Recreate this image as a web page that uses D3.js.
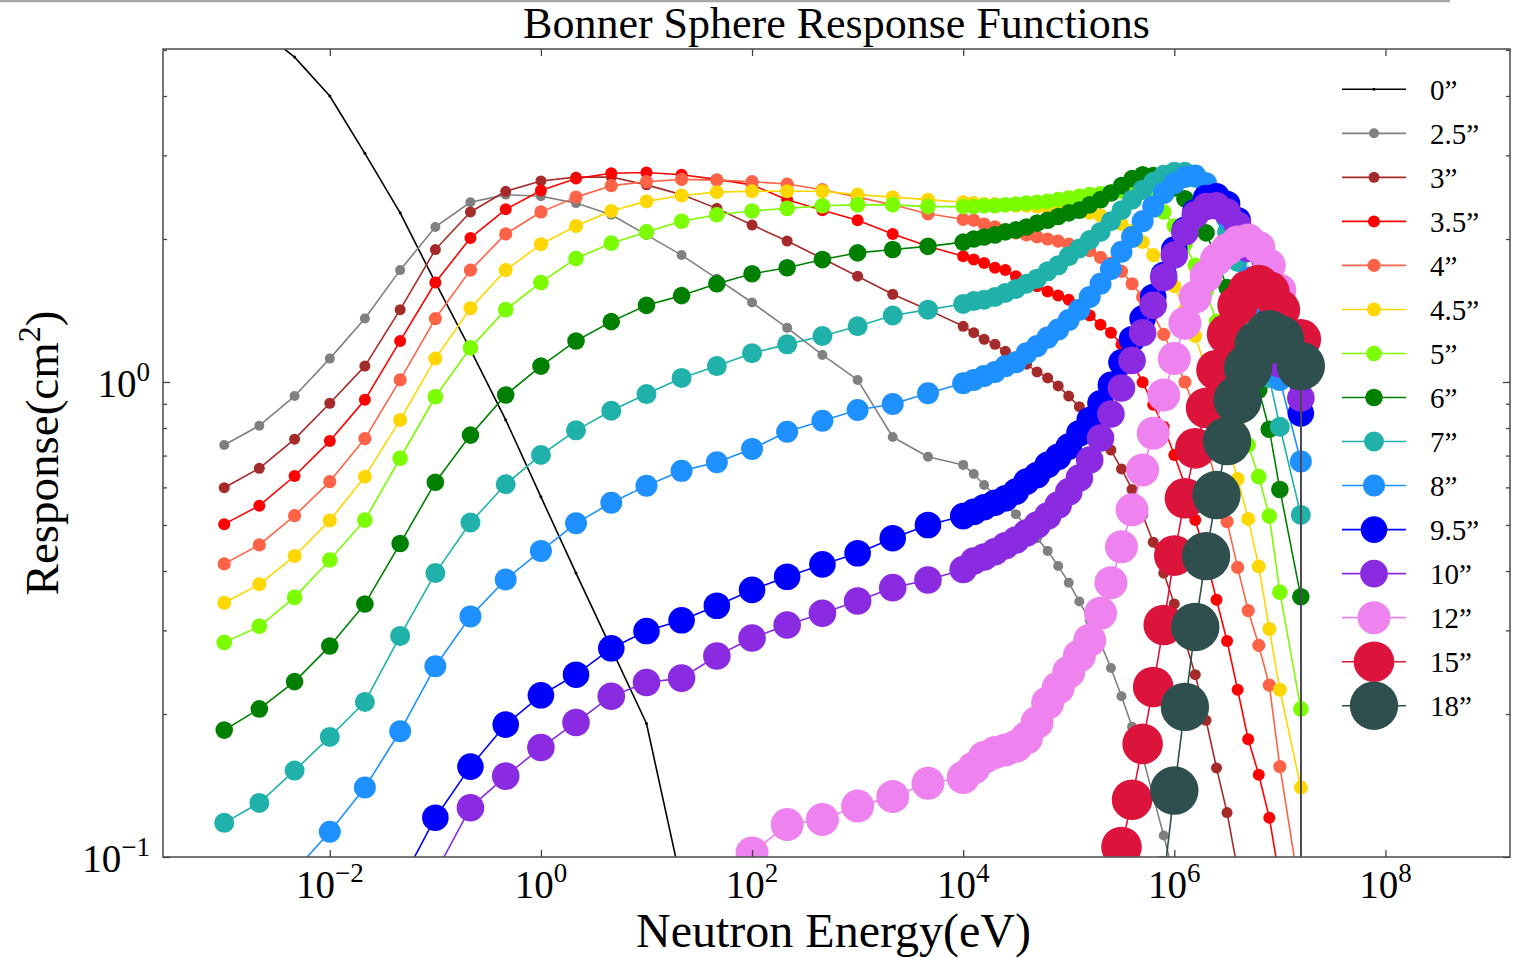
<!DOCTYPE html>
<html>
<head>
<meta charset="utf-8">
<script src="https://cdn.jsdelivr.net/npm/d3@7"></script>
<style>
  body { margin: 0; background: #fff; }
  svg { display: block; }
  text { font-family: "Liberation Serif", "DejaVu Serif", serif; fill: #000; }
</style>
</head>
<body>
<svg id="chart" width="1519" height="958"></svg>
<script>
// Neutron energy grid (eV)
const energies = [
  1e-3, 2.15e-3, 4.64e-3, 1e-2, 2.15e-2, 4.64e-2, 0.1, 0.215, 0.464, 1,
  2.15, 4.64, 10, 21.5, 46.4, 100, 215, 464, 1e3, 2.15e3, 4.64e3, 1e4,
  1.26e4, 1.58e4, 2.0e4, 2.51e4, 3.16e4, 3.98e4, 5.01e4, 6.31e4, 7.94e4, 1e5,
  1.26e5, 1.58e5, 2.0e5, 2.51e5, 3.16e5, 3.98e5, 5.01e5, 6.31e5, 7.94e5, 1e6,
  1.26e6, 1.58e6, 2.0e6, 2.51e6, 3.16e6, 3.98e6, 5.01e6, 6.31e6, 7.94e6, 1e7,
  1.58e7, 2.0e7
];

// leading points that lie outside the tabulated range of a sphere
const gap = n => Array(n).fill(null);

// Response (cm^2) of each sphere diameter, aligned with energies
const resp00 = [6.1, 5.53, 4.83, 4.00, 3.03, 2.27, 1.62, 1.17, 0.832, 0.573,
  0.396, 0.275, 0.191, 0.0877];
const resp25 = [0.737, 0.809, 0.934, 1.12, 1.36, 1.72, 2.12, 2.39, 2.48, 2.46,
  2.38, 2.25, 2.04, 1.85, 1.65, 1.47, 1.30, 1.14, 1.01, 0.766, 0.696, 0.669,
  0.640, 0.607, 0.578, 0.551, 0.527, 0.496, 0.469, 0.441, 0.410, 0.378,
  0.345, 0.315, 0.282, 0.250, 0.218, 0.188, 0.163, 0.134, 0.111, 0.0903];
const resp30 = [0.599, 0.658, 0.758, 0.902, 1.08, 1.42, 1.90, 2.28, 2.52, 2.65,
  2.70, 2.70, 2.60, 2.48, 2.32, 2.14, 1.98, 1.82, 1.67, 1.53, 1.42, 1.31,
  1.27, 1.23, 1.20, 1.16, 1.13, 1.09, 1.05, 1.02, 0.981, 0.934,
  0.887, 0.832, 0.773, 0.719, 0.656, 0.594, 0.525, 0.460, 0.396, 0.341,
  0.286, 0.242, 0.194, 0.154, 0.124, 0.0939];
const resp35 = [0.502, 0.549, 0.634, 0.751, 0.917, 1.22, 1.62, 2.01, 2.31, 2.53,
  2.68, 2.75, 2.76, 2.73, 2.67, 2.60, 2.42, 2.30, 2.19, 2.05, 1.93, 1.84,
  1.81, 1.78, 1.74, 1.72, 1.67, 1.63, 1.59, 1.55, 1.52, 1.49,
  1.43, 1.38, 1.32, 1.27, 1.20, 1.10, 0.999, 0.895, 0.805, 0.702,
  0.607, 0.512, 0.426, 0.348, 0.285, 0.225, 0.177, 0.149, 0.121, 0.0894];
const resp40 = [0.414, 0.454, 0.523, 0.617, 0.760, 1.01, 1.36, 1.72, 2.05, 2.28,
  2.45, 2.59, 2.64, 2.67, 2.66, 2.64, 2.61, 2.54, 2.45, 2.36, 2.26, 2.20,
  2.19, 2.15, 2.12, 2.09, 2.06, 2.04, 2.02, 2.00, 1.98, 1.95,
  1.92, 1.89, 1.83, 1.78, 1.71, 1.61, 1.51, 1.39, 1.26, 1.13,
  1.00, 0.873, 0.737, 0.616, 0.508, 0.407, 0.330, 0.279, 0.230, 0.155,
  0.0816, 0];
const resp45 = [0.343, 0.375, 0.430, 0.511, 0.632, 0.832, 1.12, 1.43, 1.72, 1.95,
  2.13, 2.29, 2.40, 2.47, 2.51, 2.52, 2.52, 2.52, 2.48, 2.45, 2.42, 2.39,
  2.38, 2.37, 2.37, 2.36, 2.35, 2.35, 2.34, 2.33, 2.32, 2.30,
  2.29, 2.27, 2.24, 2.20, 2.15, 2.08, 1.97, 1.85, 1.73, 1.59,
  1.42, 1.25, 1.06, 0.895, 0.748, 0.625, 0.515, 0.409, 0.302, 0.225,
  0.140, 0];
const resp50 = [0.283, 0.306, 0.352, 0.422, 0.512, 0.691, 0.931, 1.18, 1.42, 1.62,
  1.82, 1.96, 2.07, 2.18, 2.25, 2.29, 2.32, 2.35, 2.36, 2.36, 2.34, 2.34,
  2.34, 2.35, 2.35, 2.36, 2.37, 2.38, 2.39, 2.40, 2.42, 2.44,
  2.46, 2.48, 2.49, 2.51, 2.52, 2.52, 2.51, 2.42, 2.28, 2.13,
  1.95, 1.76, 1.55, 1.34, 1.14, 0.939, 0.737, 0.632, 0.522, 0.361,
  0.205, 0];
const resp60 = [0.185, 0.205, 0.234, 0.278, 0.341, 0.457, 0.615, 0.773, 0.939, 1.08,
  1.22, 1.34, 1.45, 1.52, 1.61, 1.69, 1.74, 1.81, 1.87, 1.90, 1.93, 1.97,
  2.00, 2.02, 2.04, 2.07, 2.09, 2.12, 2.16, 2.19, 2.23, 2.27,
  2.30, 2.36, 2.42, 2.50, 2.59, 2.68, 2.73, 2.72, 2.66, 2.56,
  2.43, 2.26, 2.06, 1.82, 1.58, 1.35, 1.16, 0.962, 0.795, 0.594,
  0.353, 0];
const resp70 = [0.118, 0.130, 0.152, 0.179, 0.212, 0.292, 0.396, 0.506, 0.609, 0.702,
  0.791, 0.870, 0.943, 1.02, 1.08, 1.15, 1.20, 1.25, 1.31, 1.38, 1.42, 1.46,
  1.48, 1.49, 1.51, 1.54, 1.57, 1.61, 1.65, 1.71, 1.76, 1.84,
  1.91, 1.99, 2.07, 2.18, 2.30, 2.42, 2.54, 2.64, 2.73, 2.77,
  2.77, 2.69, 2.54, 2.32, 2.07, 1.79, 1.49, 1.24, 1.02, 0.805,
  0.525, 0];
const resp80 = [null, null, 0.0934, 0.113, 0.140, 0.184, 0.252, 0.321, 0.384, 0.441,
  0.504, 0.557, 0.605, 0.650, 0.678, 0.723, 0.786, 0.829, 0.873, 0.899, 0.947, 0.994,
  1.01, 1.03, 1.05, 1.08, 1.10, 1.15, 1.19, 1.24, 1.29, 1.35,
  1.42, 1.51, 1.61, 1.73, 1.88, 2.02, 2.18, 2.34, 2.50, 2.62,
  2.70, 2.72, 2.62, 2.45, 2.21, 1.94, 1.66, 1.42, 1.20, 1.01,
  0.680, 0];
const resp95 = [...gap(5), 0.0877, 0.121, 0.155, 0.190, 0.219,
  0.242, 0.275, 0.299, 0.315, 0.338, 0.365, 0.389, 0.413, 0.436, 0.469, 0.500, 0.522,
  0.533, 0.545, 0.557, 0.569, 0.588, 0.617, 0.637, 0.669, 0.696, 0.731,
  0.780, 0.832, 0.902, 0.986, 1.10, 1.23, 1.36, 1.51, 1.68, 1.90,
  2.09, 2.28, 2.44, 2.46, 2.37, 2.19, 1.94, 1.64, 1.35, 1.11,
  0.859, 0];
const resp100 = [...gap(6), 0.0925, 0.127, 0.148, 0.170,
  0.192, 0.218, 0.233, 0.238, 0.265, 0.289, 0.308, 0.326, 0.346, 0.369, 0.383, 0.403,
  0.420, 0.428, 0.439, 0.452, 0.465, 0.481, 0.500, 0.522, 0.551, 0.587,
  0.628, 0.685, 0.762, 0.856, 0.971, 1.11, 1.27, 1.45, 1.66, 1.85,
  2.07, 2.25, 2.34, 2.35, 2.28, 2.14, 1.91, 1.60, 1.32, 1.09,
  0.925, 0];
const resp120 = [...gap(14), 0.0812, 0.102, 0.117, 0.120, 0.128, 0.134, 0.143, 0.147,
  0.154, 0.162, 0.166, 0.168, 0.171, 0.178, 0.192, 0.211, 0.227, 0.245,
  0.265, 0.286, 0.326, 0.378, 0.450, 0.538, 0.653, 0.780, 0.939, 1.12,
  1.33, 1.51, 1.67, 1.81, 1.90, 1.97, 1.99, 1.92, 1.76, 1.56,
  1.14, 0];
const resp150 = [...gap(35), 0.0812, 0.105, 0.132, 0.173, 0.228, 0.308, 0.431,
  0.569, 0.725, 0.882, 1.06, 1.26, 1.45, 1.56, 1.60, 1.55, 1.42,
  1.23, 0];
const resp180 = [...gap(40), 0.0894, 0.138,
  0.207, 0.305, 0.430, 0.578, 0.751, 0.917, 1.07, 1.20, 1.26, 1.23,
  1.08, 0];

const sphereLabels = ["0\u201D", "2.5\u201D", "3\u201D", "3.5\u201D", "4\u201D", "4.5\u201D", "5\u201D",
  "6\u201D", "7\u201D", "8\u201D", "9.5\u201D", "10\u201D", "12\u201D", "15\u201D", "18\u201D"];
const responses = [resp00, resp25, resp30, resp35, resp40, resp45, resp50, resp60,
  resp70, resp80, resp95, resp100, resp120, resp150, resp180];

// tick values
const xMajorTicks = [1e-2, 1e0, 1e2, 1e4, 1e6, 1e8];
const xTickExponents = ["\u22122", "0", "2", "4", "6", "8"];
const yMajorTicks = [0.1, 1];
const yTickExponents = ["\u22121", "0"];
const yMinorTicks = [0.2, 0.3, 0.4, 0.5, 0.6, 0.7, 0.8, 0.9, 2, 3, 4, 5];

// styling
const colors = ["#000000", "#808080", "#a52a2a", "#ff0000", "#ff6347", "#ffd700", "#7cfc00",
  "#008000", "#20b2aa", "#1e90ff", "#0000ff", "#8a2be2", "#ee82ee", "#dc143c", "#2f4f4f"];
const markerRadius = [1.5, 5, 5.5, 6, 6.6, 7, 7.8, 8.8, 10, 11, 13.3, 13.8, 16.5, 20.3, 24.2];

const svg = d3.select("#chart");
const plot = { left: 163, right: 1510, top: 49, bottom: 857 };

const x = d3.scaleLog()
  .domain([Math.pow(10, -3.58), Math.pow(10, 9.18)])
  .range([plot.left, plot.right]);
const y = d3.scaleLog()
  .domain([0.1, Math.pow(10, 0.701)])
  .range([plot.bottom, plot.top]);

// thin rule across the top of the figure
svg.append("line")
  .attr("x1", 0).attr("x2", 1450).attr("y1", 1).attr("y2", 1)
  .attr("stroke", "#a6a6a6").attr("stroke-width", 2.5);

svg.append("defs").append("clipPath").attr("id", "plot-clip")
  .append("rect")
  .attr("x", plot.left).attr("y", plot.top)
  .attr("width", plot.right - plot.left).attr("height", plot.bottom - plot.top);

// response curves, drawn in order so the larger spheres sit on top
const FLOOR = 1e-300;
const line = d3.line()
  .defined(d => d.v != null)
  .x(d => x(d.e))
  .y(d => y(Math.max(d.v, FLOOR)));

const curves = svg.append("g").attr("clip-path", "url(#plot-clip)");
responses.forEach((vals, i) => {
  const pts = energies.map((e, k) => ({ e, v: vals[k] === undefined ? null : vals[k] }));
  const g = curves.append("g");
  g.append("path")
    .attr("d", line(pts))
    .attr("fill", "none")
    .attr("stroke", colors[i])
    .attr("stroke-width", 1.6)
    .attr("stroke-linejoin", "round");
  g.selectAll("circle")
    .data(pts.filter(d => d.v != null && d.v > 0))
    .join("circle")
    .attr("cx", d => x(d.e))
    .attr("cy", d => y(d.v))
    .attr("r", markerRadius[i])
    .attr("fill", colors[i]);
});

// frame
svg.append("rect")
  .attr("x", plot.left).attr("y", plot.top)
  .attr("width", plot.right - plot.left).attr("height", plot.bottom - plot.top)
  .attr("fill", "none").attr("stroke", "#555").attr("stroke-width", 1.6);

// inward ticks on all four sides
function styleAxis(g) {
  g.select(".domain").remove();
  g.selectAll(".tick line").attr("stroke", "#444").attr("stroke-width", 1.3);
  g.selectAll(".tick text").remove();
}
svg.append("g").attr("transform", `translate(0,${plot.bottom})`)
  .call(d3.axisBottom(x).tickValues(xMajorTicks).tickSize(-7).tickFormat(""))
  .call(styleAxis);
svg.append("g").attr("transform", `translate(0,${plot.top})`)
  .call(d3.axisTop(x).tickValues(xMajorTicks).tickSize(-7).tickFormat(""))
  .call(styleAxis);
[[d3.axisLeft, plot.left], [d3.axisRight, plot.right]].forEach(([axisFn, pos]) => {
  svg.append("g").attr("transform", `translate(${pos},0)`)
    .call(axisFn(y).tickValues(yMajorTicks).tickSize(-7).tickFormat(""))
    .call(styleAxis);
  svg.append("g").attr("transform", `translate(${pos},0)`)
    .call(axisFn(y).tickValues(yMinorTicks).tickSize(-4).tickFormat(""))
    .call(styleAxis);
});

// power-of-ten tick labels
function powerLabel(sel, exponent) {
  sel.append("tspan").attr("font-size", 39).text("10");
  sel.append("tspan").attr("font-size", 27).attr("dy", -16).text(exponent);
}
xMajorTicks.forEach((v, i) => {
  svg.append("text")
    .attr("x", x(v)).attr("y", plot.bottom + 41)
    .attr("text-anchor", "middle")
    .call(powerLabel, xTickExponents[i]);
});
yMajorTicks.forEach((v, i) => {
  svg.append("text")
    .attr("x", plot.left - 13).attr("y", y(v) + 15)
    .attr("text-anchor", "end")
    .call(powerLabel, yTickExponents[i]);
});

// titles
svg.append("text")
  .attr("x", (plot.left + plot.right) / 2).attr("y", 38)
  .attr("text-anchor", "middle").attr("font-size", 44)
  .text("Bonner Sphere Response Functions");
svg.append("text")
  .attr("x", (plot.left + plot.right) / 2 - 3).attr("y", 947)
  .attr("text-anchor", "middle").attr("font-size", 48)
  .text("Neutron Energy(eV)");
const yLabel = svg.append("text")
  .attr("transform", `translate(58,${(plot.top + plot.bottom) / 2}) rotate(-90)`)
  .attr("text-anchor", "middle").attr("font-size", 47);
yLabel.append("tspan").text("Response(cm");
yLabel.append("tspan").attr("font-size", 32).attr("dy", -18).text("2");
yLabel.append("tspan").attr("dy", 18).text(")");

// legend
const legend = svg.append("g");
sphereLabels.forEach((lab, i) => {
  const ly = 89.3 + i * 44.03;
  legend.append("line")
    .attr("x1", 1342).attr("x2", 1406).attr("y1", ly).attr("y2", ly)
    .attr("stroke", colors[i]).attr("stroke-width", 1.6);
  legend.append("circle")
    .attr("cx", 1374).attr("cy", ly).attr("r", markerRadius[i])
    .attr("fill", colors[i]);
  legend.append("text")
    .attr("x", 1430).attr("y", ly).attr("dy", "0.36em")
    .attr("font-size", 29)
    .text(lab);
});
</script>
</body>
</html>
